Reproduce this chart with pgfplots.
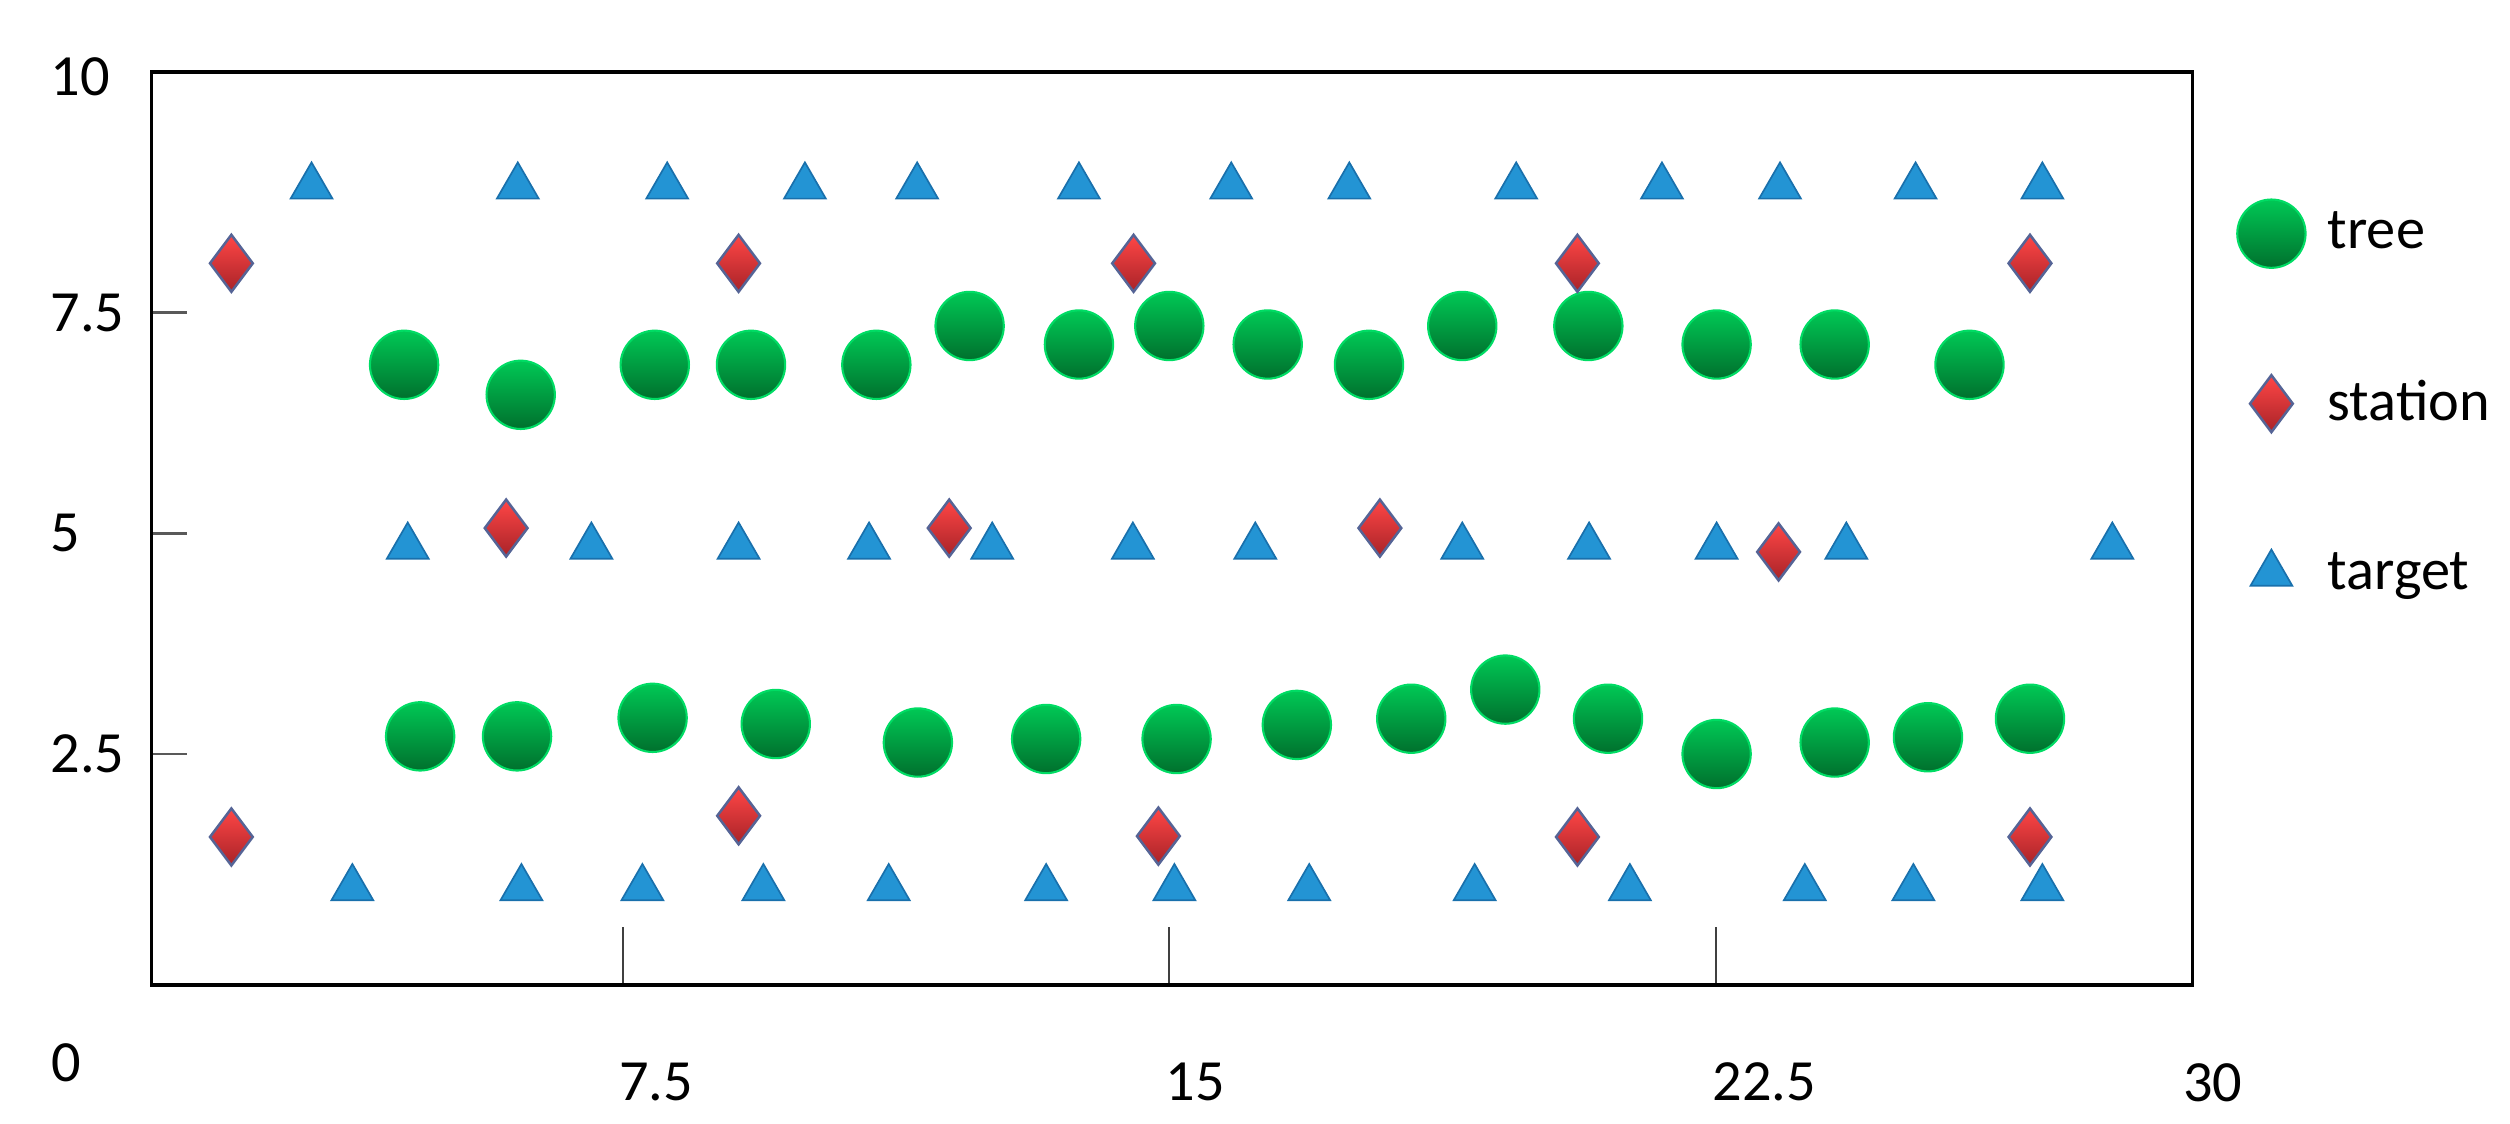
\documentclass[border=0pt]{standalone}
\usepackage{fontspec}
\setmainfont{Carlito}
\usepackage{pgfplots}
\pgfplotsset{compat=1.18}

\definecolor{treelight}{RGB}{0,200,85}
\definecolor{treedark}{RGB}{0,112,45}
\definecolor{treeedge}{RGB}{0,220,100}
\definecolor{stationlight}{RGB}{255,70,70}
\definecolor{stationdark}{RGB}{168,35,40}
\definecolor{stationedge}{RGB}{85,100,150}
\definecolor{targetfill}{RGB}{35,148,212}
\definecolor{targetedge}{RGB}{25,112,172}

\pgfdeclareverticalshading{treeshade}{100bp}{color(0bp)=(treedark); color(25bp)=(treedark); color(75bp)=(treelight); color(100bp)=(treelight)}
\pgfdeclareverticalshading{stationshade}{100bp}{color(0bp)=(stationdark); color(25bp)=(stationdark); color(75bp)=(stationlight); color(100bp)=(stationlight)}

% shaded circle
\pgfdeclareplotmark{treeball}{%
  \pgfpathcircle{\pgfpointorigin}{\pgfplotmarksize}%
  \pgfshadepath{treeshade}{0}%
  \pgfsetstrokecolor{treeedge}\pgfsetlinewidth{0.5pt}%
  \pgfusepath{stroke}}
% shaded diamond
\pgfdeclareplotmark{stationdia}{%
  \pgfpathmoveto{\pgfqpoint{0pt}{\pgfplotmarksize}}%
  \pgfpathlineto{\pgfqpoint{.75\pgfplotmarksize}{0pt}}%
  \pgfpathlineto{\pgfqpoint{0pt}{-\pgfplotmarksize}}%
  \pgfpathlineto{\pgfqpoint{-.75\pgfplotmarksize}{0pt}}%
  \pgfpathclose
  \pgfshadepath{stationshade}{0}%
  \pgfsetstrokecolor{stationedge}\pgfsetlinewidth{0.6pt}%
  \pgfusepath{stroke}}
% flat triangle
\pgfdeclareplotmark{targettri}{%
  \pgfpathmoveto{\pgfqpoint{0pt}{\pgfplotmarksize}}%
  \pgfpathlineto{\pgfqpoint{.866\pgfplotmarksize}{-.5\pgfplotmarksize}}%
  \pgfpathlineto{\pgfqpoint{-.866\pgfplotmarksize}{-.5\pgfplotmarksize}}%
  \pgfpathclose
  \pgfsetfillcolor{targetfill}\pgfsetstrokecolor{targetedge}\pgfsetlinewidth{0.4pt}%
  \pgfusepath{fill,stroke}}

\pgfplotsset{markimage/.style={legend image code/.code={\path[draw=none,fill=none] (0pt,-9pt) rectangle (0.6cm+3pt,9pt);
    \draw[mark repeat=2,mark phase=2,##1] plot coordinates {(0cm,0cm) (0.3cm,0cm) (0.6cm,0cm)};}}}

\begin{document}
\begin{tikzpicture}
\begin{axis}[
  scale only axis, width=489.8pt, height=219.1pt,
  xmin=1.034, xmax=29.04, ymin=-0.117, ymax=10.228,
  clip=false,
  axis line style={black, line width=0.9pt},
  tick align=inside, xtick pos=bottom, ytick pos=left,
  xtick={7.5,15,22.5}, xticklabels={7.5,15,22.5},
  ytick={2.5,5,7.5}, yticklabels={2.5,5,7.5},
  extra y ticks={10}, extra y tick labels={10},
  extra y tick style={ytick style={draw=none}, yticklabel style={yshift=3.6pt}},
  major tick length=8.4pt,
  xtick style={/pgfplots/major tick length=14pt, draw=black!75, line width=0.4pt},
  ytick style={draw=black!65, line width=0.6pt},
  ticklabel style={font=\fontsize{14}{17}\selectfont, inner sep=0pt},
  xticklabel style={anchor=north west, yshift=-18.5pt, xshift=-1pt},
  yticklabel style={anchor=west, xshift=-24.4pt},
  legend style={draw=none, fill=none, at={(rel axis cs:1,1)}, anchor=north west,
    xshift=10.2pt, yshift=-29.6pt, inner sep=0pt, row sep=22.8pt,
    font=\fontsize{14}{17}\selectfont},
  legend cell align=left,
]
\addplot[only marks, mark=treeball, mark size=8.2pt, markimage]
coordinates {
(4.50,6.91) (6.10,6.57) (7.94,6.91) (9.26,6.91) (10.98,6.91) (12.26,7.35) (13.76,7.14) (15.00,7.35)
(16.35,7.14) (17.74,6.91) (19.02,7.35) (20.75,7.35) (22.51,7.14) (24.13,7.14) (25.98,6.91)
(4.72,2.70) (6.05,2.70) (7.91,2.91) (9.60,2.84) (11.55,2.63) (13.31,2.67) (15.10,2.67) (16.75,2.83)
(18.32,2.90) (19.61,3.23) (21.02,2.90) (22.51,2.50) (24.13,2.63) (25.41,2.69) (26.81,2.90)
};
\addlegendentry{tree}
\addplot[only marks, mark=stationdia, mark size=6.84pt, markimage]
coordinates {
(2.13,8.06) (9.09,8.06) (14.51,8.06) (20.60,8.06) (26.81,8.06)
(5.90,5.06) (11.98,5.06) (17.89,5.06) (23.36,4.79)
(2.13,1.56) (9.09,1.80) (14.85,1.57) (20.60,1.56) (26.81,1.56)
};
\addlegendentry{station}
\addplot[only marks, mark=targettri, mark size=5.8pt, markimage]
coordinates {
(3.23,8.93) (6.06,8.93) (8.11,8.93) (10.00,8.93) (11.54,8.93) (13.76,8.93) (15.85,8.93)
(17.47,8.93) (19.76,8.93) (21.76,8.93) (23.38,8.93) (25.24,8.93) (26.98,8.93)
(4.55,4.85) (7.07,4.85) (9.09,4.85) (10.88,4.85) (12.57,4.85) (14.50,4.85) (16.18,4.85)
(19.02,4.85) (20.76,4.85) (22.51,4.85) (24.29,4.85) (27.94,4.85)
(3.79,0.98) (6.11,0.98) (7.77,0.98) (9.43,0.98) (11.15,0.98) (13.31,0.98) (15.07,0.98)
(16.92,0.98) (19.19,0.98) (21.32,0.98) (23.72,0.98) (25.21,0.98) (26.98,0.98)
};
\addlegendentry{target}
\coordinate (bl) at (rel axis cs:0,0);
\coordinate (tr) at (rel axis cs:1,1);
\end{axis}
\node[anchor=north west, inner sep=0pt, font=\fontsize{14}{17}\selectfont] at ([xshift=-24.1pt,yshift=-13.9pt]bl) {0};
\node[anchor=north west, inner sep=0pt, font=\fontsize{14}{17}\selectfont] at ([xshift=-2.4pt,yshift=-18.7pt]bl-|tr) {30};
\pgfresetboundingbox
\path[use as bounding box] ([xshift=-36.36pt,yshift=-33.36pt]bl) rectangle ([xshift=76.2pt,yshift=17.28pt]tr);
\end{tikzpicture}
\end{document}
